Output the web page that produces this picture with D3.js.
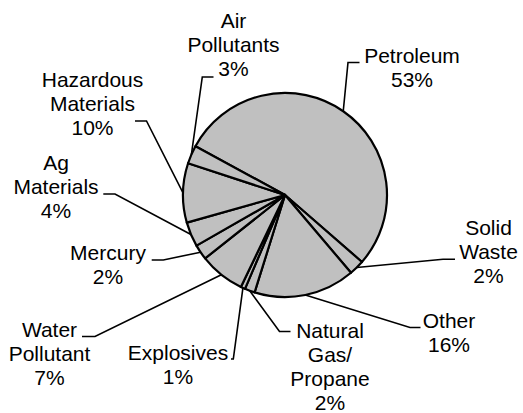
<!DOCTYPE html>
<html>
<head>
<meta charset="utf-8">
<script src="https://cdn.jsdelivr.net/npm/d3@7"></script>
<style>
body{margin:0;background:#fff;}
text{font-family:"Liberation Sans",Arial,sans-serif;font-size:21px;fill:#000;}
</style>
</head>
<body>
<div id="chart"></div>
<script>
// slices, clockwise from the petroleum slice
var categories = ["Petroleum","Solid\nWaste","Other","Natural\nGas/\nPropane","Explosives","Water\nPollutant","Mercury","Ag\nMaterials","Hazardous\nMaterials","Air\nPollutants"];
var shares = [53.4, 2.4, 16.0, 1.6, 0.7, 7.2, 2.4, 3.9, 9.4, 2.9];
var pctLabels = ["53%","2%","16%","2%","1%","7%","2%","4%","10%","3%"];

// label placement (text centre x, first baseline y, leader elbow and tail)
var labelLayout = [
	{cx:412, y:63.3, elbow:[348,62.5], tail:[359.5,62.5]},
	{cx:488.5, y:235, elbow:[443,259.3], tail:[455,259.3]},
	{cx:449, y:328.3, elbow:[410,327.5], tail:[420.5,327.5]},
	{cx:330, y:338, elbow:[279.5,331.5], tail:[290.5,331.5]},
	{cx:178, y:360, elbow:[233.3,359], tail:[231,359]},
	{cx:49.5, y:336.7, elbow:[95,336.5], tail:[82,336.5]},
	{cx:108, y:260, elbow:[163.3,260], tail:[151.7,260]},
	{cx:56, y:170, elbow:[115,194], tail:[103.3,194]},
	{cx:92.5, y:86.7, elbow:[146.5,121], tail:[135,121]},
	{cx:233.5, y:28.3, elbow:[202.3,77], tail:[213.5,77]}
];

var w = 523, h = 413;
var cx = 285, cy = 195, r = 102;
var lineH = 24;
var start = -61.4*Math.PI/180;

var svg = d3.select("#chart").append("svg")
	.attr("width", w)
	.attr("height", h);

var pie = d3.pie().sort(null).value(function(d){return d;})
	.startAngle(start).endAngle(start+2*Math.PI);
var arcs = pie(shares);

var arc = d3.arc().innerRadius(0).outerRadius(r);
var edge = d3.arc().innerRadius(r).outerRadius(r);

var g = svg.append("g").attr("transform","translate("+cx+","+cy+")");

g.selectAll("path.slice")
	.data(arcs)
	.enter()
	.append("path")
	.attr("class","slice")
	.attr("d", arc)
	.attr("fill","#c0c0c0")
	.attr("stroke","#000")
	.attr("stroke-width",2.2)
	.attr("stroke-linejoin","round");

// leader lines
var line = d3.line();
svg.selectAll("path.leader")
	.data(arcs)
	.enter()
	.append("path")
	.attr("class","leader")
	.attr("d", function(d,i){
		var p = edge.centroid(d);
		var l = labelLayout[i];
		return line([[p[0]+cx,p[1]+cy], l.elbow, l.tail]);
	})
	.attr("fill","none")
	.attr("stroke","#000")
	.attr("stroke-width",1.6);

// labels
var labels = svg.selectAll("text.lbl")
	.data(arcs)
	.enter()
	.append("text")
	.attr("class","lbl")
	.attr("text-anchor","middle");

labels.each(function(d,i){
	var l = labelLayout[i];
	var lines = categories[i].split("\n").concat([pctLabels[i]]);
	var t = d3.select(this);
	for(var k=0;k<lines.length;k++){
		t.append("tspan")
		 .attr("x", l.cx)
		 .attr("y", l.y + k*lineH)
		 .text(lines[k]);
	}
});
</script>
</body>
</html>
